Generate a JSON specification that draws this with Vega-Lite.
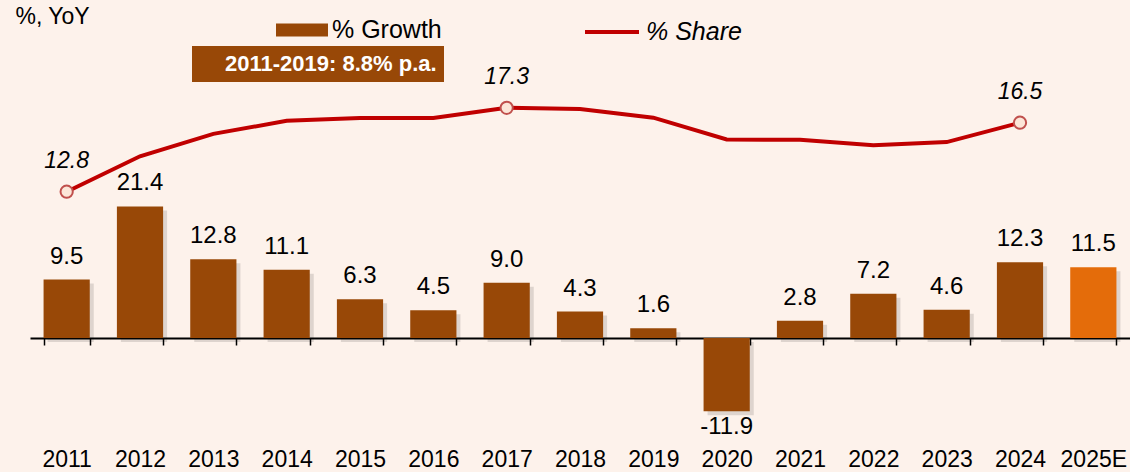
{
  "$schema": "https://vega.github.io/schema/vega-lite/v6.json",
  "width": 1100,
  "height": 472,
  "autosize": {"type": "none"},
  "padding": {"left": 30, "top": 0, "right": 0, "bottom": 0},
  "background": "#FDF2EB",
  "config": {"view": {"stroke": null}, "font": "Liberation Sans"},
  "data": {
    "values": [
      {"year": "2011", "growth": 9.5, "share": 12.8, "type": "% Growth"},
      {"year": "2012", "growth": 21.4, "share": 14.7, "type": "% Growth"},
      {"year": "2013", "growth": 12.8, "share": 15.9, "type": "% Growth"},
      {"year": "2014", "growth": 11.1, "share": 16.6, "type": "% Growth"},
      {"year": "2015", "growth": 6.3, "share": 16.75, "type": "% Growth"},
      {"year": "2016", "growth": 4.5, "share": 16.75, "type": "% Growth"},
      {"year": "2017", "growth": 9.0, "share": 17.3, "type": "% Growth"},
      {"year": "2018", "growth": 4.3, "share": 17.23, "type": "% Growth"},
      {"year": "2019", "growth": 1.6, "share": 16.77, "type": "% Growth"},
      {"year": "2020", "growth": -11.9, "share": 15.6, "type": "% Growth"},
      {"year": "2021", "growth": 2.8, "share": 15.58, "type": "% Growth"},
      {"year": "2022", "growth": 7.2, "share": 15.29, "type": "% Growth"},
      {"year": "2023", "growth": 4.6, "share": 15.46, "type": "% Growth"},
      {"year": "2024", "growth": 12.3, "share": 16.5, "type": "% Growth"},
      {"year": "2025E", "growth": 11.5, "share": null, "type": "Forecast"}
    ]
  },
  "encoding": {
    "x": {
      "field": "year",
      "type": "nominal",
      "sort": null,
      "scale": {"paddingInner": 0.37, "paddingOuter": 0.185},
      "axis": {
        "title": null,
        "grid": false,
        "domain": true,
        "domainColor": "#000000",
        "domainWidth": 2,
        "ticks": true,
        "tickBand": "extent",
        "tickColor": "#000000",
        "tickSize": 7,
        "tickWidth": 1.5,
        "labelFontSize": 23,
        "labelColor": "#000000",
        "labelAngle": 0,
        "labelBaseline": "alphabetic",
        "labelPadding": 121,
        "offset": -134
      }
    }
  },
  "layer": [
    {
      "encoding": {
        "y": {
          "field": "growth",
          "type": "quantitative",
          "stack": null,
          "scale": {"domain": [-21.79, 54.96], "nice": false, "zero": false},
          "axis": {
            "title": "%, YoY",
            "domain": false,
            "ticks": false,
            "labels": false,
            "grid": false,
            "titleAngle": 0,
            "titleAlign": "left",
            "titleBaseline": "alphabetic",
            "titleX": -15,
            "titleY": 23,
            "titleFontSize": 23,
            "titleFontWeight": "normal",
            "titleColor": "#000000"
          }
        }
      },
      "layer": [
        {
          "mark": {"type": "bar", "color": "#000000", "opacity": 0.12, "xOffset": 4, "yOffset": 4, "y2Offset": 4},
          "encoding": {"y2": {"datum": 0}}
        },
        {
          "mark": {"type": "bar"},
          "encoding": {
            "y2": {"datum": 0},
            "fill": {
              "field": "type",
              "type": "nominal",
              "scale": {"domain": ["% Growth", "Forecast"], "range": ["#984807", "#E46C0A"]},
              "legend": {
                "values": ["% Growth"],
                "orient": "none",
                "legendX": 246,
                "legendY": 4,
                "title": null,
                "symbolType": "M-1,-0.25H1V0.25H-1Z",
                "symbolSize": 2704,
                "symbolStrokeWidth": 0,
                "labelFontSize": 25,
                "labelOffset": 4,
                "labelLimit": 400,
                "labelColor": "#000000",
                "padding": 0
              }
            }
          }
        },
        {
          "transform": [{"filter": "datum.growth >= 0"}],
          "mark": {"type": "text", "dy": -16, "baseline": "alphabetic", "fontSize": 24, "color": "#000000"},
          "encoding": {"text": {"field": "growth", "type": "quantitative", "format": ".1f"}}
        },
        {
          "transform": [{"filter": "datum.growth < 0"}],
          "mark": {"type": "text", "dy": 23, "baseline": "alphabetic", "fontSize": 24, "color": "#000000"},
          "encoding": {"text": {"field": "growth", "type": "nominal"}}
        }
      ]
    },
    {
      "transform": [{"filter": "isValid(datum.share)"}],
      "encoding": {
        "y": {
          "field": "share",
          "type": "quantitative",
          "scale": {"domain": [-2.23, 23.08], "nice": false, "zero": false},
          "axis": null
        }
      },
      "layer": [
        {
          "mark": {"type": "line", "strokeWidth": 4},
          "encoding": {
            "stroke": {
              "datum": "% Share",
              "scale": {"range": ["#C00000"]},
              "legend": {
                "orient": "none",
                "legendX": 553,
                "legendY": 3,
                "title": null,
                "symbolType": "stroke",
                "symbolSize": 2916,
                "symbolStrokeWidth": 4,
                "labelFontSize": 25,
                "labelFontStyle": "italic",
                "labelOffset": 5,
                "labelLimit": 400,
                "labelColor": "#000000",
                "padding": 0
              }
            }
          }
        },
        {
          "transform": [{"filter": {"field": "year", "oneOf": ["2011", "2017", "2024"]}}],
          "mark": {"type": "point", "filled": true, "fill": "#FCE6D8", "stroke": "#C0504D", "strokeWidth": 2, "size": 150, "opacity": 1},
          "encoding": {
            "shape": {
              "datum": "2011-2019: 8.8% p.a.",
              "scale": {"range": ["circle"]},
              "legend": {
                "orient": "none",
                "legendX": 162,
                "legendY": 46,
                "title": null,
                "symbolSize": 0,
                "symbolOpacity": 0,
                "symbolStrokeWidth": 0,
                "labelFontSize": 22,
                "labelFontWeight": "bold",
                "labelColor": "#FFFFFF",
                "labelOffset": 4,
                "labelLimit": 600,
                "fillColor": "#984807",
                "padding": 7
              }
            }
          }
        },
        {
          "transform": [{"filter": {"field": "year", "oneOf": ["2011", "2017", "2024"]}}],
          "mark": {"type": "text", "dy": -24, "baseline": "alphabetic", "fontSize": 23, "fontStyle": "italic", "color": "#000000"},
          "encoding": {"text": {"field": "share", "type": "quantitative", "format": ".1f"}}
        }
      ]
    }
  ],
  "resolve": {"scale": {"y": "independent"}, "axis": {"y": "independent"}}
}
